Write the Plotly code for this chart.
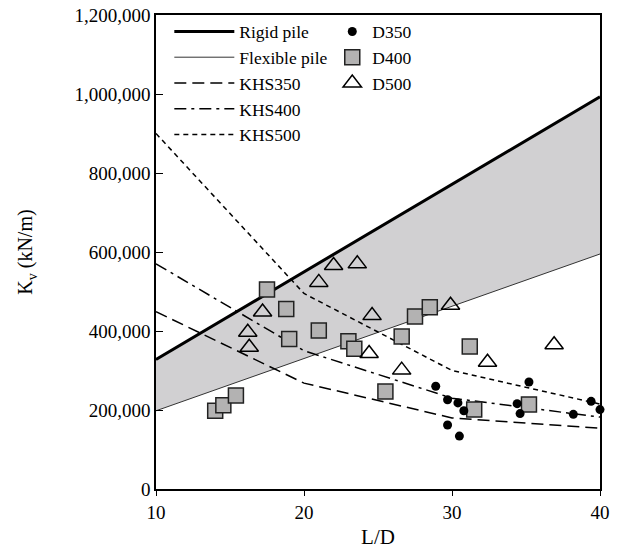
import plotly.graph_objects as go

# ---- data ----
ld_line = [10, 40]
rigid_kv = [328000, 993000]
flexible_kv = [198000, 595000]

khs_ld = [10, 20, 30, 40]
khs350_kv = [449000, 268000, 180000, 154000]
khs400_kv = [570000, 350000, 230000, 182000]
khs500_kv = [900000, 495000, 300000, 215000]

d350_ld = [28.9, 29.7, 30.4, 30.8, 29.7, 30.5, 35.2, 34.4, 34.6, 38.2, 39.4, 40.0]
d350_kv = [260000, 226000, 218000, 198000, 162000, 134000, 271000, 216000, 191000, 189000, 222000, 201000]

d400_ld = [14.0, 14.55, 15.4, 17.5, 18.8, 19.0, 21.0, 23.0, 23.4, 25.5, 26.6, 27.5, 28.5, 31.2, 31.5, 35.2]
d400_kv = [198000, 212000, 237000, 505000, 456000, 380000, 401000, 374000, 355000, 247000, 386000, 437000, 460000, 361000, 201000, 214000]

d500_ld = [16.2, 16.3, 17.2, 21.0, 22.0, 23.6, 24.6, 24.4, 26.6, 29.9, 32.4, 36.9]
d500_kv = [397000, 359000, 448000, 523000, 566000, 570000, 439000, 343000, 301000, 465000, 321000, 365000]

FONT = "Liberation Serif, Times New Roman, serif"

fig = go.Figure()

# shaded band between flexible and rigid pile lines
fig.add_trace(go.Scatter(x=ld_line, y=flexible_kv, mode="lines", line=dict(width=0),
                         showlegend=False, hoverinfo="skip"))
fig.add_trace(go.Scatter(x=ld_line, y=rigid_kv, mode="lines", line=dict(width=0),
                         fill="tonexty", fillcolor="#d1d0d2", showlegend=False, hoverinfo="skip"))

fig.add_trace(go.Scatter(x=ld_line, y=rigid_kv, mode="lines", name="Rigid pile",
                         line=dict(color="black", width=3), legend="legend", legendrank=1))
fig.add_trace(go.Scatter(x=ld_line, y=flexible_kv, mode="lines", name="Flexible pile",
                         line=dict(color="#333333", width=1), legend="legend", legendrank=2))
fig.add_trace(go.Scatter(x=khs_ld, y=khs350_kv, mode="lines", name="KHS350",
                         line=dict(color="black", width=1.5, dash="12px,6px"), legend="legend", legendrank=3))
fig.add_trace(go.Scatter(x=khs_ld, y=khs400_kv, mode="lines", name="KHS400",
                         line=dict(color="black", width=1.5, dash="12px,5px,3px,5px"), legend="legend", legendrank=4))
fig.add_trace(go.Scatter(x=khs_ld, y=khs500_kv, mode="lines", name="KHS500",
                         line=dict(color="black", width=1.5, dash="5px,4px"), legend="legend", legendrank=5))

fig.add_trace(go.Scatter(x=d400_ld, y=d400_kv, mode="markers", name="D400",
                         marker=dict(symbol="square", size=15, color="#b3b2b2",
                                     line=dict(color="#222222", width=1.5)),
                         legend="legend2", legendrank=2))
fig.add_trace(go.Scatter(x=d500_ld, y=d500_kv, mode="markers", name="D500",
                         marker=dict(symbol="triangle-up-open", size=16, color="black",
                                     line=dict(color="black", width=1.5)),
                         legend="legend2", legendrank=3))
fig.add_trace(go.Scatter(x=d350_ld, y=d350_kv, mode="markers", name="D350",
                         marker=dict(symbol="circle", size=9, color="black"), cliponaxis=False,
                         legend="legend2", legendrank=1))

fig.update_layout(
    width=621, height=548,
    margin=dict(l=148, r=29, t=7, b=67, autoexpand=False),
    paper_bgcolor="white", plot_bgcolor="white",
    font=dict(family=FONT, size=19, color="black"),
    legend=dict(x=0.03, y=1.003, xanchor="left", yanchor="top", bgcolor="rgba(0,0,0,0)",
                font=dict(family=FONT, size=17.5), itemwidth=60, tracegroupgap=0,
                traceorder="normal"),
    legend2=dict(x=0.397, y=1.003, xanchor="left", yanchor="top", bgcolor="rgba(0,0,0,0)",
                 font=dict(family=FONT, size=17.5), itemwidth=30, tracegroupgap=0,
                 traceorder="normal"),
    xaxis=dict(range=[10, 40], tickvals=[10, 20, 30, 40], ticks="outside", ticklen=5,
               tickwidth=1.2, tickcolor="black", showline=True, linecolor="black", linewidth=1.5,
               mirror=True, showgrid=False, zeroline=False, automargin=False,
               ticklabeloverflow="allow",
               title=dict(text="L/D", font=dict(family=FONT, size=21), standoff=8),
               tickfont=dict(family=FONT, size=19)),
    yaxis=dict(range=[0, 1200000], dtick=200000, tickformat=",", ticks="inside", ticklen=7,
               tickwidth=1.2, tickcolor="black", showline=True, linecolor="black", linewidth=1.5,
               mirror=True, showgrid=False, zeroline=False, automargin=False,
               ticklabeloverflow="allow",
               title=dict(text="K<sub>v</sub> (kN/m)", font=dict(family=FONT, size=20), standoff=36),
               tickfont=dict(family=FONT, size=19)),
)

fig.write_html("out.html")
